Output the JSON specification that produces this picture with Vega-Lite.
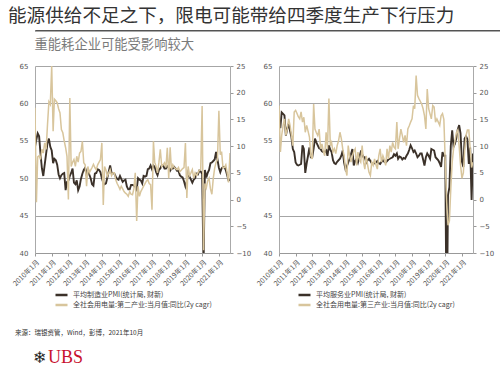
{
"$schema":"https://vega.github.io/schema/vega-lite/v6.json",
"background":"white",
"padding":{"left":8,"top":7,"right":4,"bottom":0},
"config":{"font":"Noto Sans CJK SC","view":{"stroke":null},"axis":{"labelFont":"DejaVu Sans"},"legend":{"labelFont":"Noto Sans CJK SC","layout":{"bottom":{"anchor":"middle"}}}},
"title":{"text":"能源供给不足之下，限电可能带给四季度生产下行压力","anchor":"start","fontSize":18.6,"fontWeight":"normal","color":"#333333","offset":4},
"datasets":{"d":[
{"d":"2010-01","m":54.2,"e2":17.2,"s":56.8,"e3":17.6},
{"d":"2010-02","m":55.2,"e2":-0.5,"s":56.8,"e3":8.9},
{"d":"2010-03","m":56.0,"e2":8.0,"s":58.8,"e3":12.0},
{"d":"2010-04","m":55.6,"e2":8.2,"s":58.6,"e3":13.9},
{"d":"2010-05","m":53.3,"e2":7.5,"s":58.4,"e3":15.1},
{"d":"2010-06","m":51.3,"e2":9.4,"s":55.7,"e3":12.0},
{"d":"2010-07","m":50.3,"e2":8.7,"s":56.6,"e3":13.2},
{"d":"2010-08","m":51.8,"e2":10.6,"s":57.3,"e3":15.1},
{"d":"2010-09","m":53.3,"e2":9.4,"s":56.3,"e3":13.9},
{"d":"2010-10","m":54.7,"e2":14.0,"s":55.5,"e3":12.0},
{"d":"2010-11","m":55.3,"e2":18.3,"s":53.9,"e3":10.1},
{"d":"2010-12","m":54.2,"e2":17.8,"s":53.5,"e3":16.4},
{"d":"2011-01","m":53.7,"e2":25.0,"s":52.1,"e3":16.7},
{"d":"2011-02","m":52.0,"e2":12.8,"s":51.8,"e3":16.1},
{"d":"2011-03","m":52.6,"e2":18.8,"s":51.7,"e3":15.5},
{"d":"2011-04","m":52.4,"e2":18.5,"s":51.8,"e3":15.1},
{"d":"2011-05","m":51.8,"e2":18.1,"s":51.9,"e3":16.4},
{"d":"2011-06","m":50.5,"e2":17.0,"s":54.4,"e3":14.5},
{"d":"2011-07","m":50.0,"e2":16.2,"s":53.9,"e3":15.4},
{"d":"2011-08","m":50.4,"e2":13.1,"s":50.7,"e3":12.6},
{"d":"2011-09","m":50.6,"e2":12.5,"s":52.0,"e3":13.9},
{"d":"2011-10","m":50.7,"e2":11.0,"s":53.0,"e3":12.8},
{"d":"2011-11","m":48.4,"e2":9.7,"s":54.1,"e3":11.7},
{"d":"2011-12","m":49.5,"e2":8.1,"s":52.8,"e3":8.2},
{"d":"2012-01","m":49.7,"e2":0.0,"s":52.8,"e3":7.6},
{"d":"2012-02","m":50.3,"e2":19.0,"s":54.0,"e3":17.9},
{"d":"2012-03","m":50.7,"e2":6.2,"s":55.3,"e3":13.2},
{"d":"2012-04","m":51.3,"e2":7.0,"s":54.8,"e3":12.5},
{"d":"2012-05","m":49.4,"e2":7.5,"s":54.4,"e3":12.0},
{"d":"2012-06","m":49.2,"e2":6.2,"s":54.0,"e3":13.2},
{"d":"2012-07","m":49.7,"e2":8.1,"s":53.9,"e3":9.5},
{"d":"2012-08","m":48.4,"e2":7.0,"s":53.6,"e3":10.4},
{"d":"2012-09","m":48.9,"e2":8.7,"s":53.5,"e3":9.0},
{"d":"2012-10","m":49.9,"e2":9.0,"s":53.5,"e3":8.2},
{"d":"2012-11","m":50.6,"e2":10.9,"s":53.7,"e3":12.6},
{"d":"2012-12","m":51.1,"e2":6.9,"s":53.0,"e3":9.5},
{"d":"2013-01","m":51.4,"e2":6.5,"s":54.4,"e3":18.9},
{"d":"2013-02","m":50.3,"e2":2.5,"s":53.8,"e3":10.1},
{"d":"2013-03","m":51.3,"e2":6.2,"s":53.5,"e3":10.7},
{"d":"2013-04","m":50.5,"e2":5.0,"s":52.4,"e3":8.9},
{"d":"2013-05","m":50.0,"e2":5.5,"s":52.0,"e3":9.5},
{"d":"2013-06","m":49.2,"e2":6.0,"s":51.9,"e3":8.6},
{"d":"2013-07","m":49.0,"e2":6.6,"s":52.2,"e3":10.1},
{"d":"2013-08","m":50.6,"e2":6.0,"s":52.4,"e3":11.0},
{"d":"2013-09","m":50.7,"e2":5.6,"s":52.6,"e3":12.6},
{"d":"2013-10","m":51.2,"e2":6.5,"s":53.0,"e3":11.4},
{"d":"2013-11","m":51.1,"e2":7.0,"s":53.7,"e3":9.5},
{"d":"2013-12","m":50.8,"e2":7.5,"s":52.1,"e3":8.2},
{"d":"2014-01","m":50.0,"e2":10.6,"s":51.2,"e3":5.7},
{"d":"2014-02","m":49.4,"e2":-1.0,"s":51.6,"e3":4.5},
{"d":"2014-03","m":49.2,"e2":6.2,"s":52.1,"e3":10.1},
{"d":"2014-04","m":49.3,"e2":5.5,"s":52.6,"e3":8.2},
{"d":"2014-05","m":50.1,"e2":4.4,"s":53.2,"e3":7.0},
{"d":"2014-06","m":50.9,"e2":5.0,"s":53.9,"e3":8.2},
{"d":"2014-07","m":51.7,"e2":5.6,"s":51.7,"e3":9.0},
{"d":"2014-08","m":50.7,"e2":4.5,"s":52.3,"e3":9.5},
{"d":"2014-09","m":50.7,"e2":5.0,"s":52.6,"e3":6.4},
{"d":"2014-10","m":50.6,"e2":5.0,"s":52.1,"e3":8.9},
{"d":"2014-11","m":50.2,"e2":3.7,"s":52.8,"e3":7.5},
{"d":"2014-12","m":49.9,"e2":3.0,"s":53.5,"e3":7.0},
{"d":"2015-01","m":49.8,"e2":2.5,"s":53.2,"e3":10.1},
{"d":"2015-02","m":50.3,"e2":1.9,"s":52.8,"e3":7.0},
{"d":"2015-03","m":49.9,"e2":2.5,"s":52.8,"e3":5.7},
{"d":"2015-04","m":49.5,"e2":2.0,"s":52.1,"e3":8.2},
{"d":"2015-05","m":49.7,"e2":1.5,"s":52.4,"e3":6.5},
{"d":"2015-06","m":49.8,"e2":1.2,"s":52.6,"e3":5.1},
{"d":"2015-07","m":48.9,"e2":1.0,"s":52.3,"e3":4.5},
{"d":"2015-08","m":48.5,"e2":0.6,"s":52.0,"e3":7.0},
{"d":"2015-09","m":48.5,"e2":1.5,"s":51.9,"e3":6.4},
{"d":"2015-10","m":49.1,"e2":1.0,"s":52.0,"e3":7.6},
{"d":"2015-11","m":49.1,"e2":0.9,"s":52.1,"e3":6.5},
{"d":"2015-12","m":49.0,"e2":2.0,"s":52.3,"e3":5.7},
{"d":"2016-01","m":48.9,"e2":5.0,"s":52.0,"e3":8.2},
{"d":"2016-02","m":48.5,"e2":-4.0,"s":51.9,"e3":9.5},
{"d":"2016-03","m":50.0,"e2":2.5,"s":52.2,"e3":7.0},
{"d":"2016-04","m":49.8,"e2":0.6,"s":52.4,"e3":8.2},
{"d":"2016-05","m":49.7,"e2":1.5,"s":52.2,"e3":7.5},
{"d":"2016-06","m":49.3,"e2":2.0,"s":52.1,"e3":6.4},
{"d":"2016-07","m":50.3,"e2":2.5,"s":52.3,"e3":9.5},
{"d":"2016-08","m":50.2,"e2":3.0,"s":52.5,"e3":7.6},
{"d":"2016-09","m":50.3,"e2":3.5,"s":52.6,"e3":10.1},
{"d":"2016-10","m":51.2,"e2":3.7,"s":52.7,"e3":8.9},
{"d":"2016-11","m":51.3,"e2":3.0,"s":52.8,"e3":10.7},
{"d":"2016-12","m":51.7,"e2":2.8,"s":53.2,"e3":9.8},
{"d":"2017-01","m":51.2,"e2":-1.9,"s":53.0,"e3":9.5},
{"d":"2017-02","m":51.7,"e2":10.9,"s":53.3,"e3":14.5},
{"d":"2017-03","m":51.5,"e2":7.0,"s":52.6,"e3":9.5},
{"d":"2017-04","m":50.8,"e2":6.2,"s":52.9,"e3":11.4},
{"d":"2017-05","m":50.4,"e2":5.0,"s":52.8,"e3":13.2},
{"d":"2017-06","m":51.1,"e2":7.0,"s":52.5,"e3":12.0},
{"d":"2017-07","m":51.3,"e2":9.4,"s":52.7,"e3":10.7},
{"d":"2017-08","m":51.7,"e2":6.2,"s":52.6,"e3":12.0},
{"d":"2017-09","m":51.7,"e2":6.5,"s":53.0,"e3":10.1},
{"d":"2017-10","m":51.3,"e2":6.9,"s":53.3,"e3":13.2},
{"d":"2017-11","m":51.3,"e2":6.0,"s":53.8,"e3":13.8},
{"d":"2017-12","m":51.6,"e2":9.7,"s":54.4,"e3":14.5},
{"d":"2018-01","m":51.4,"e2":4.0,"s":54.0,"e3":15.1},
{"d":"2018-02","m":51.0,"e2":9.8,"s":53.5,"e3":17.6},
{"d":"2018-03","m":51.3,"e2":5.6,"s":53.7,"e3":17.0},
{"d":"2018-04","m":51.3,"e2":6.5,"s":53.3,"e3":23.2},
{"d":"2018-05","m":51.5,"e2":6.0,"s":52.8,"e3":19.5},
{"d":"2018-06","m":51.3,"e2":5.8,"s":53.0,"e3":18.9},
{"d":"2018-07","m":51.0,"e2":5.6,"s":53.3,"e3":18.4},
{"d":"2018-08","m":51.0,"e2":6.0,"s":53.3,"e3":17.9},
{"d":"2018-09","m":50.4,"e2":5.2,"s":52.5,"e3":17.0},
{"d":"2018-10","m":50.2,"e2":5.5,"s":51.7,"e3":15.7},
{"d":"2018-11","m":50.1,"e2":5.8,"s":52.8,"e3":13.2},
{"d":"2018-12","m":49.6,"e2":6.0,"s":53.3,"e3":20.7},
{"d":"2019-01","m":48.9,"e2":10.6,"s":53.0,"e3":17.0},
{"d":"2019-02","m":49.6,"e2":0.3,"s":52.6,"e3":16.0},
{"d":"2019-03","m":50.7,"e2":6.2,"s":53.9,"e3":15.1},
{"d":"2019-04","m":50.2,"e2":4.5,"s":53.8,"e3":17.6},
{"d":"2019-05","m":49.8,"e2":5.0,"s":53.7,"e3":17.3},
{"d":"2019-06","m":49.4,"e2":5.6,"s":52.8,"e3":14.5},
{"d":"2019-07","m":49.8,"e2":4.0,"s":52.6,"e3":15.1},
{"d":"2019-08","m":50.0,"e2":5.0,"s":52.4,"e3":14.5},
{"d":"2019-09","m":50.6,"e2":4.5,"s":52.0,"e3":13.9},
{"d":"2019-10","m":50.5,"e2":5.0,"s":51.5,"e3":15.7},
{"d":"2019-11","m":51.0,"e2":5.5,"s":53.5,"e3":16.1},
{"d":"2019-12","m":50.9,"e2":5.6,"s":53.0,"e3":15.0},
{"d":"2020-01","m":50.6,"e2":17.5,"s":53.0,"e3":7.0},
{"d":"2020-02","m":38.0,"e2":-9.5,"s":28.0,"e3":-0.5},
{"d":"2020-03","m":51.1,"e2":3.0,"s":47.7,"e3":-4.8},
{"d":"2020-04","m":50.1,"e2":2.2,"s":48.8,"e3":-4.0},
{"d":"2020-05","m":50.7,"e2":3.5,"s":54.3,"e3":2.0},
{"d":"2020-06","m":51.1,"e2":4.0,"s":56.4,"e3":7.0},
{"d":"2020-07","m":52.0,"e2":2.0,"s":54.2,"e3":9.5},
{"d":"2020-08","m":52.1,"e2":1.0,"s":54.6,"e3":11.0},
{"d":"2020-09","m":52.3,"e2":4.0,"s":55.4,"e3":12.5},
{"d":"2020-10","m":52.5,"e2":5.9,"s":56.5,"e3":13.0},
{"d":"2020-11","m":53.5,"e2":7.0,"s":57.1,"e3":10.0},
{"d":"2020-12","m":52.5,"e2":7.5,"s":56.0,"e3":6.5},
{"d":"2021-01","m":51.4,"e2":16.6,"s":52.2,"e3":4.0},
{"d":"2021-02","m":50.8,"e2":8.4,"s":51.5,"e3":5.0},
{"d":"2021-03","m":51.3,"e2":9.0,"s":55.3,"e3":9.0},
{"d":"2021-04","m":51.5,"e2":5.9,"s":55.6,"e3":12.0},
{"d":"2021-05","m":51.5,"e2":6.0,"s":55.2,"e3":13.0},
{"d":"2021-06","m":51.1,"e2":6.5,"s":51.9,"e3":13.0},
{"d":"2021-07","m":50.4,"e2":5.0,"s":54.1,"e3":9.5},
{"d":"2021-08","m":49.7,"e2":3.2,"s":47.1,"e3":6.0},
{"d":"2021-09","m":49.8,"e2":8.7,"s":53.3,"e3":7.0}
]},
"spacing":11,
"resolve":{"scale":{"x":"independent","y":"independent","color":"independent","size":"independent"},"axis":{"x":"independent","y":"independent"},"legend":{"color":"independent","size":"independent"}},
"vconcat":[
{
"width":484,"height":1,
"data":{"values":[{"a":0,"b":1,"c":0}]},
"mark":{"type":"rule","color":"#555555","strokeWidth":1},
"encoding":{"x":{"field":"a","type":"quantitative","scale":{"domain":[0,1],"nice":false},"axis":{"orient":"top","labels":false,"ticks":false,"grid":false,"title":null,"domainColor":"#555555","domainWidth":1}},"x2":{"field":"b"},"y":{"field":"c","type":"quantitative","scale":{"domain":[0,1]},"axis":null}},
"title":{"text":"重能耗企业可能受影响较大","orient":"bottom","anchor":"start","fontSize":13.3,"fontWeight":"normal","color":"#7a7a7a","offset":6}
},
{
"spacing":1,
"resolve":{"scale":{"color":"independent"},"legend":{"color":"independent"}},
"title":{"text":"来源：瑞银资管，Wind，彭博，2021年10月","orient":"bottom","anchor":"start","fontSize":6.5,"fontWeight":"normal","color":"#333333","offset":20,"dx":7},
"hconcat":[
{
"width":195,"height":187,
"data":{"name":"d"},
"layer":[
{"mark":{"type":"line","strokeWidth":1.9,"clip":true},
"encoding":{
"x":{"field":"d","type":"temporal","scale":{"type":"utc"},"axis":{"title":null,"labelExpr":"utcFormat(datum.value, '%Y') + '年1月'","labelAngle":-45,"labelFontSize":7,"labelFont":"Noto Sans CJK SC","labelColor":"#555555","tickCount":{"interval":"year","step":1},"labelOverlap":false,"grid":false,"domainColor":"#999999","tickColor":"#999999","tickSize":3,"labelPadding":2}},
"y":{"field":"m","type":"quantitative","scale":{"domain":[40,65],"nice":false,"zero":false},"axis":{"title":null,"values":[40,45,50,55,60,65],"grid":true,"gridColor":"#a6a6a6","ticks":false,"labelFontSize":7,"labelColor":"#555555","domainColor":"#aaaaaa","labelPadding":7,"minExtent":27}},
"color":{"datum":"平均制造业PMI(统计局, 财新)","type":"nominal","scale":{"domain":["平均制造业PMI(统计局, 财新)","全社会用电量:第二产业:当月值:同比(2y cagr)"],"range":["#3b3129","#d8c59c"]},"legend":{"orient":"bottom","direction":"vertical","title":null,"symbolType":"stroke","symbolStrokeWidth":2.5,"symbolSize":144,"clipHeight":10,"labelFontSize":7,"labelColor":"#444444","rowPadding":0,"offset":3,"labelLimit":300}}
}},
{"mark":{"type":"line","strokeWidth":1.5,"clip":true},
"encoding":{
"x":{"field":"d","type":"temporal","scale":{"type":"utc"}},
"y":{"field":"e2","type":"quantitative","scale":{"domain":[-10,25],"nice":false,"zero":false},"axis":{"orient":"right","title":null,"values":[-10,-5,0,5,10,15,20,25],"grid":false,"ticks":true,"tickSize":3,"tickColor":"#999999","labelFontSize":7,"labelColor":"#555555","domainColor":"#aaaaaa","labelPadding":3,"minExtent":20}},
"color":{"datum":"全社会用电量:第二产业:当月值:同比(2y cagr)","type":"nominal"}
}}
],
"resolve":{"scale":{"y":"independent"}}
},
{
"width":194,"height":187,
"data":{"name":"d"},
"layer":[
{"mark":{"type":"line","strokeWidth":1.9,"clip":true},
"encoding":{
"x":{"field":"d","type":"temporal","scale":{"type":"utc"},"axis":{"title":null,"labelExpr":"utcFormat(datum.value, '%Y') + '年1月'","labelAngle":-45,"labelFontSize":7,"labelFont":"Noto Sans CJK SC","labelColor":"#555555","tickCount":{"interval":"year","step":1},"labelOverlap":false,"grid":false,"domainColor":"#999999","tickColor":"#999999","tickSize":3,"labelPadding":2}},
"y":{"field":"s","type":"quantitative","scale":{"domain":[40,65],"nice":false,"zero":false},"axis":{"title":null,"values":[40,45,50,55,60,65],"grid":true,"gridColor":"#a6a6a6","ticks":false,"labelFontSize":7,"labelColor":"#555555","domainColor":"#aaaaaa","labelPadding":7,"minExtent":27}},
"color":{"datum":"平均服务业PMI(统计局, 财新)","type":"nominal","scale":{"domain":["平均服务业PMI(统计局, 财新)","全社会用电量:第三产业:当月值:同比(2y cagr)"],"range":["#3b3129","#d8c59c"]},"legend":{"orient":"bottom","direction":"vertical","title":null,"symbolType":"stroke","symbolStrokeWidth":2.5,"symbolSize":144,"clipHeight":10,"labelFontSize":7,"labelColor":"#444444","rowPadding":0,"offset":3,"labelLimit":300}}
}},
{"mark":{"type":"line","strokeWidth":1.5,"clip":true},
"encoding":{
"x":{"field":"d","type":"temporal","scale":{"type":"utc"}},
"y":{"field":"e3","type":"quantitative","scale":{"domain":[-10,25],"nice":false,"zero":false},"axis":{"orient":"right","title":null,"values":[-10,-5,0,5,10,15,20,25],"grid":false,"ticks":true,"tickSize":3,"tickColor":"#999999","labelFontSize":7,"labelColor":"#555555","domainColor":"#aaaaaa","labelPadding":3,"minExtent":20}},
"color":{"datum":"全社会用电量:第三产业:当月值:同比(2y cagr)","type":"nominal"}
}}
],
"resolve":{"scale":{"y":"independent"}}
}
]
},
{
"width":35,"height":1,
"data":{"values":[{"k":"logo","t":"❄"},{"k":"name","t":"UBS"}]},
"mark":{"type":"text","font":"Liberation Serif"},
"encoding":{
"x":{"field":"k","type":"nominal","axis":null,"scale":{"type":"point","domain":["logo","name"],"padding":0.17}},
"text":{"field":"t"},
"color":{"field":"k","type":"nominal","scale":{"domain":["logo","name"],"range":["#222222","#c8102e"]},"legend":null},
"size":{"field":"k","type":"nominal","scale":{"domain":["logo","name"],"range":[16,18]},"legend":null}
}
}
]
}
